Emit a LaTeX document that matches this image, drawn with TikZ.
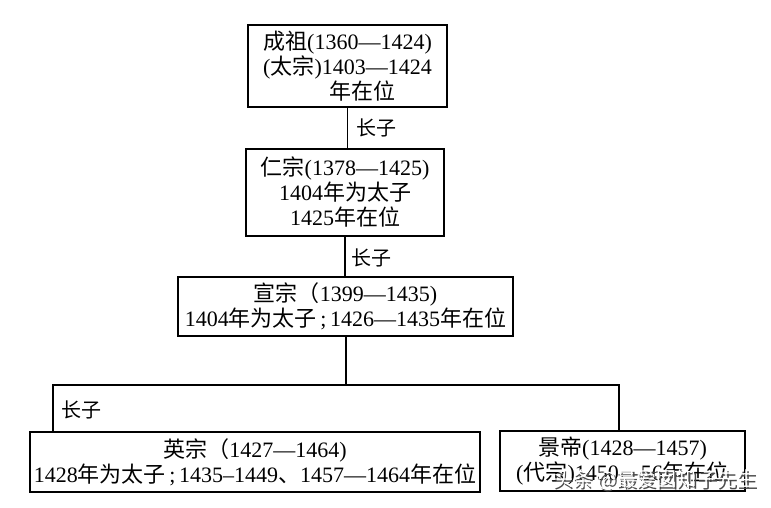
\documentclass[tikz,border=0pt]{standalone}
\usepackage{fontspec}
\setmainfont{Liberation Serif}
\newfontfamily\cjk{Noto Sans CJK SC}
\newcommand{\zh}[1]{{\cjk #1}}
\begin{document}
\begin{tikzpicture}[x=1pt,y=-1pt,
  box/.style={draw=black,line width=1.8pt,inner sep=0pt,align=center,
     font=\fontsize{22}{25}\selectfont},
  lbl/.style={font=\fontsize{20}{24}\selectfont\cjk,inner sep=0pt},
  conn/.style={line width=1.8pt,black},
  wm/.style={font=\fontsize{20}{24}\selectfont\cjk,inner sep=0pt}]
\useasboundingbox[fill=white] (0,0) rectangle (771,507);
\node[box,minimum width=199pt,minimum height=82pt] (b1) at (347.5,66)
  {\zh{成祖}(1360—1424)\\(\zh{太宗})1403—1424\\\hspace{30pt}\zh{年在位}};
\node[box,minimum width=198pt,minimum height=87pt] (b2) at (345,192.5)
  {\zh{仁宗}(1378—1425)\\1404\zh{年为太子}\\1425\zh{年在位}};
\node[box,minimum width=335pt,minimum height=59pt] (b3) at (345.5,306.5)
  {\zh{宣宗（}1399—1435)\\1404\zh{年为太子}\,;\,1426—1435\zh{年在位}};
\node[box,minimum width=450pt,minimum height=60pt] (b4) at (255,462)
  {\zh{英宗（}1427—1464)\\1428\zh{年为太子}\,;\,1435–1449\zh{、}1457—1464\zh{年在位}};
\node[box,minimum width=245pt,minimum height=60pt] (b5) at (622.5,461)
  {\zh{景帝}(1428—1457)\\(\zh{代宗})1450—56\zh{年在位}};
\coordinate (j) at (346,385);
\coordinate (jl) at (53,385);
\coordinate (jr) at (619,385);
\draw[conn] (b1.south) -- (b1.south |- b2.north);
\draw[conn] (b2.south) -- (b2.south |- b3.north);
\draw[conn] (b3.south -| j) -- (j);
\draw[conn] (jl |- b4.north) -- (jl) -- (jr) -- (jr |- b5.north);
\node[lbl] (l1) at (376,128) {长子};
\node[lbl] (l2) at (371,258) {长子};
\node[lbl] (l3) at (81,410) {长子};
\node[wm,text=black!70] (wms) at (656.5,481.5) {头条 @最爱囡知子先生};
\node[wm,text=white] (wm) at (655,480) {头条 @最爱囡知子先生};
\end{tikzpicture}
\end{document}
